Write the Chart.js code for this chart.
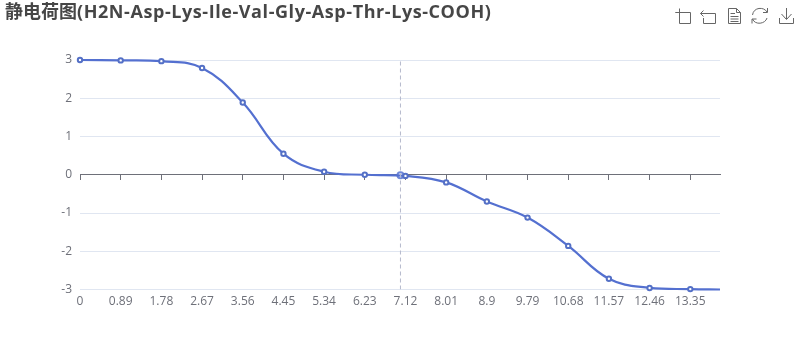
<!DOCTYPE html>
<html>
<head>
<meta charset="utf-8">
<style>
    html, body { margin: 0; padding: 0; background: #fff; }
    #wrap { position: relative; width: 800px; height: 360px; }
    #title {
        position: absolute; left: 5px; top: -3px; line-height: 24px; white-space: nowrap;
        font: bold 18px "Open Sans", "Noto Sans CJK SC", sans-serif; color: #464646;
    }
    #title span { letter-spacing: 0.57px; }
    #tools { position: absolute; left: 670px; top: 4px; }
</style>
<script src="https://cdn.jsdelivr.net/npm/chart.js@4"></script>
</head>
<body>
<div id="wrap">
    <canvas id="chargeChart" width="800" height="360"></canvas>
    <div id="title">静电荷图<span>(H2N-Asp-Lys-Ile-Val-Gly-Asp-Thr-Lys-COOH)</span></div>
    <svg id="tools" width="130" height="24" fill="none" stroke="#666" stroke-width="1">
        <!-- toolbox icons -->
        <path d="M5.5 8.5H20.5V19.5H9.5V4.5M5.5 8.5H9.5"/>
        <path d="M33.5 6.5L30.5 9.5L33.5 12.5M30.5 9.5H45.5V19.5H33.5V14"/>
        <path d="M58.5 4.5H66.5L70.5 8.5V19.5H58.5ZM66.5 4.5V8.5H70.5M60.5 9.5H65M60.5 12.5H68.5M60.5 15H68.5M60.5 17.5H68.5"/>
        <path d="M82.5 11C83.5 3 94 2.5 97 8M97.5 4V8.5H93M97 14C95.5 20 85 21.5 82.5 15M82 19.5V15H86.5"/>
        <path d="M116.5 4V15M111.5 10L116.5 15.5L121.5 10M109.5 14V19.5H123.5V14"/>
    </svg>
</div>
<script>
// Net charge against pH
const phValues = [0, 0.89, 1.78, 2.67, 3.56, 4.45, 5.34, 6.23, 7.12, 8.01, 8.9, 9.79, 10.68, 11.57, 12.46, 13.35, 14];
const chargeValues = [3, 2.99, 2.97, 2.79, 1.89, 0.55, 0.08, 0, -0.03, -0.2, -0.7, -1.12, -1.86, -2.72, -2.96, -2.99, -3];
const xTickValues = [0, 0.89, 1.78, 2.67, 3.56, 4.45, 5.34, 6.23, 7.12, 8.01, 8.9, 9.79, 10.68, 11.57, 12.46, 13.35];
const yTickValues = [-3, -2, -1, 0, 1, 2, 3];
const isoelectricPh = [7.01];
const isoelectricCharge = [-0.01];
const isoLineCharges = [-3, 3];

const labelFont = { family: '"Open Sans", "Noto Sans CJK SC", sans-serif', size: 12 };

new Chart(document.getElementById('chargeChart').getContext('2d'), {
    type: 'line',
    data: {
        datasets: [
            {
                // dashed line at the isoelectric point
                data: isoLineCharges.map(c => ({ x: isoelectricPh[0], y: c })),
                borderColor: '#b5b9cc',
                borderWidth: 1,
                borderDash: [4, 3],
                pointRadius: 0
            },
            {
                data: phValues.map((p, i) => ({ x: p, y: chargeValues[i] })),
                borderColor: '#5470d0',
                borderWidth: 2.2,
                backgroundColor: '#fff',
                tension: 0.4,
                pointRadius: phValues.map(p => xTickValues.includes(p) ? 2.2 : 0), // last point has no marker
                pointBorderWidth: 2,
                pointBackgroundColor: '#fff',
                pointBorderColor: '#5470c6',
                clip: false
            },
            {
                data: isoelectricPh.map((p, i) => ({ x: p, y: isoelectricCharge[i] })),
                showLine: false,
                pointRadius: 3,
                pointBorderWidth: 2,
                pointBackgroundColor: '#fff',
                pointBorderColor: '#6f88d8',
                clip: false
            }
        ]
    },
    options: {
        responsive: false,
        animation: false,
        layout: { padding: { top: 60, right: 80, left: 0, bottom: 0 } },
        plugins: {
            legend: { display: false },
            title: { display: false },
            tooltip: { enabled: false }
        },
        scales: {
            x: {
                type: 'linear',
                min: 0,
                max: 14,
                afterBuildTicks: scale => { scale.ticks = xTickValues.map(v => ({ value: v })); },
                afterFit: scale => { scale.height = 70.5; },
                grid: { display: false, drawTicks: false },
                border: { display: false },
                ticks: {
                    color: '#6E7079',
                    font: labelFont,
                    padding: 5,
                    maxRotation: 0,
                    autoSkip: false,
                    callback: v => String(v)
                }
            },
            // axis line and tick marks sitting on zero
            zeroAxis: {
                type: 'linear',
                axis: 'x',
                position: { y: 0 },
                min: 0,
                max: 14,
                afterBuildTicks: scale => { scale.ticks = xTickValues.map(v => ({ value: v })); },
                grid: { drawOnChartArea: false, color: '#6E7079', tickLength: 5 },
                border: { color: '#6E7079' },
                ticks: { display: false }
            },
            y: {
                min: -3,
                max: 3,
                afterBuildTicks: scale => { scale.ticks = yTickValues.map(v => ({ value: v })); },
                afterFit: scale => { scale.width = 80; },
                grid: { color: '#E0E6F1', drawTicks: false },
                border: { display: false },
                ticks: { color: '#6E7079', font: labelFont, padding: 8 }
            }
        }
    }
});
</script>
</body>
</html>
